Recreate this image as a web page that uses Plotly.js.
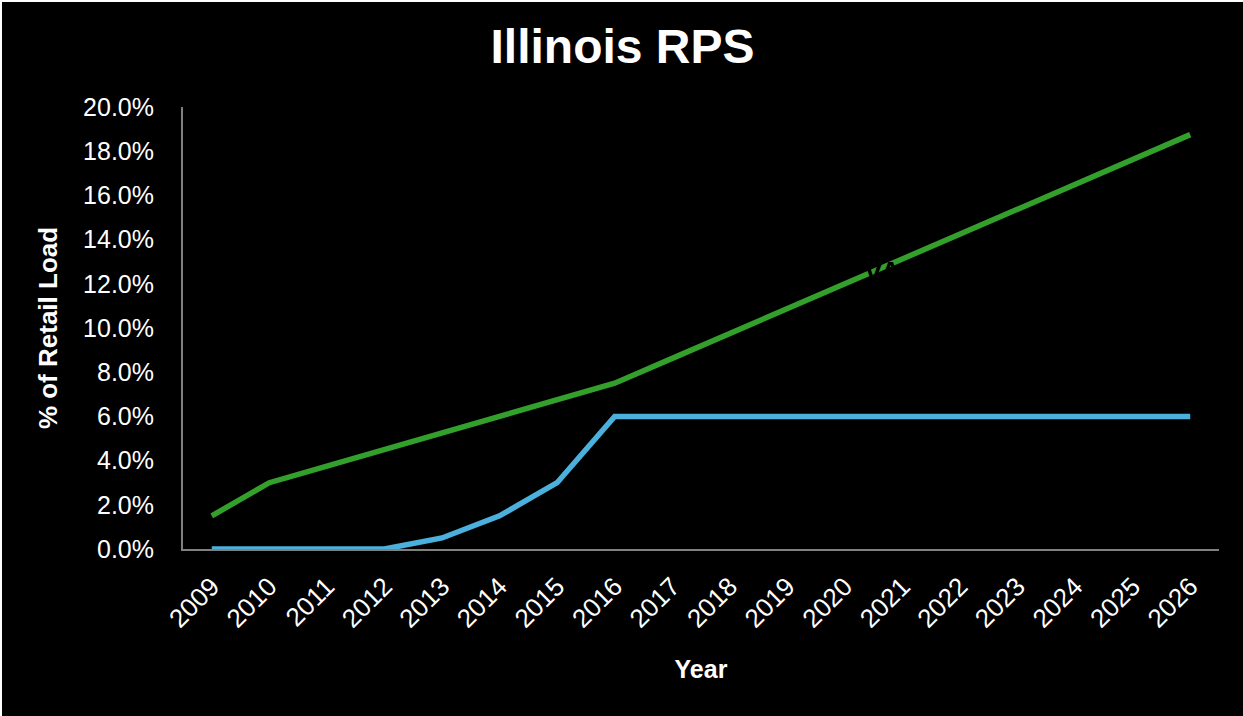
<!DOCTYPE html>
<html>
<head>
<meta charset="utf-8">
<script src="https://cdn.plot.ly/plotly-3.0.1.min.js"></script>
<style>
html,body{margin:0;padding:0;background:#ffffff;overflow:hidden;}
#chart{position:absolute;left:2px;top:2px;width:1241px;height:714px;background:#000;}
</style>
</head>
<body>
<div id="chart"></div>
<script>
const years = ["2009","2010","2011","2012","2013","2014","2015","2016","2017","2018","2019","2020","2021","2022","2023","2024","2025","2026"];
const totalRPS = [1.5,3.0,3.75,4.5,5.25,6.0,6.75,7.5,8.625,9.75,10.875,12.0,13.125,14.25,15.375,16.5,17.625,18.75];
const solarTarget = [0,0,0,0,0.5,1.5,3.0,6.0,6.0,6.0,6.0,6.0,6.0,6.0,6.0,6.0,6.0,6.0];
const yTicks = [0,2,4,6,8,10,12,14,16,18,20];

const font = "Liberation Sans, Arial, sans-serif";
const traces = [
  {x: years, y: totalRPS, type: "scatter", mode: "lines", name: "Total RPS",
   line: {color: "#33a02c", width: 5.5}, hoverinfo: "skip"},
  {x: years, y: solarTarget, type: "scatter", mode: "lines", name: "Solar",
   line: {color: "#4bb0dc", width: 5.5}, hoverinfo: "skip"}
];
const layout = {
  width: 1241, height: 714,
  paper_bgcolor: "#000", plot_bgcolor: "#000",
  margin: {l: 181, r: 24, t: 105, b: 167},
  showlegend: false,
  font: {family: font, color: "#fff", size: 25},
  title: {text: "<b>Illinois RPS</b>", font: {family: font, size: 48, color: "#fff"},
          x: 0.5, xanchor: "center", y: 0.938, yanchor: "middle"},
  xaxis: {
    type: "category", range: [-0.5, 17.5],
    showgrid: false, zeroline: false,
    showline: true, linecolor: "#808080", linewidth: 2,
    ticks: "", tickangle: -45, tickfont: {size: 26, color: "#fff"},
    ticklabelstandoff: 10,
    title: {text: "<b>Year</b>", font: {size: 25, color: "#fff"}, standoff: 28}
  },
  yaxis: {
    range: [0, 20], tickvals: yTicks, ticktext: yTicks.map(v => v.toFixed(1) + "%"),
    showgrid: false, zeroline: false,
    showline: true, linecolor: "#808080", linewidth: 2,
    ticks: "", ticklen: 0, tickfont: {size: 25, color: "#fff"},
    ticklabelstandoff: 22,
    title: {text: "<b>% of Retail Load</b>", font: {size: 26, color: "#fff"}, standoff: 18}
  },
  annotations: [
    {x: 11.65, y: 12.55, xref: "x", yref: "y", text: "<b>VA</b>", showarrow: false,
     font: {family: font, size: 28, color: "#000"}}
  ]
};
Plotly.newPlot("chart", traces, layout, {staticPlot: true, displayModeBar: false});
</script>
</body>
</html>
